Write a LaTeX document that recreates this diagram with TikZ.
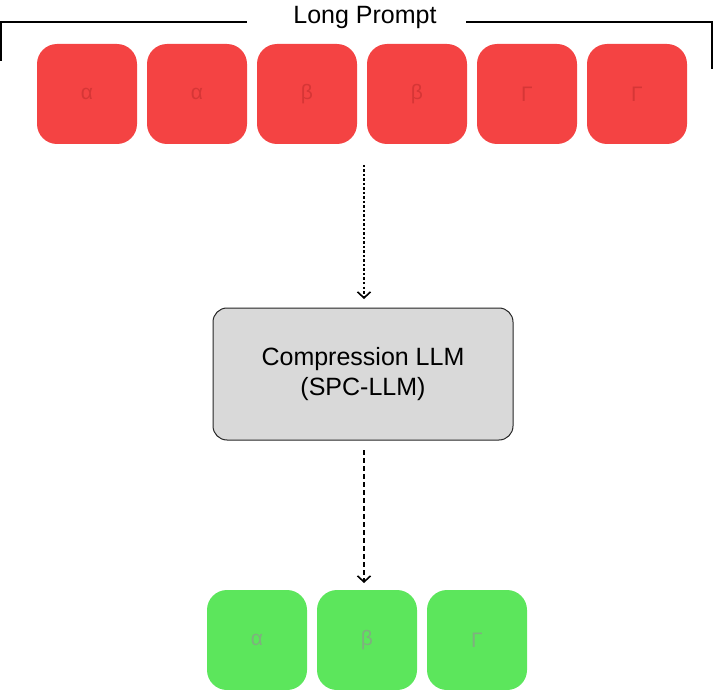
\documentclass[tikz,border=0pt]{standalone}
\usepackage{fontspec}
\setmainfont{Liberation Sans}
\usetikzlibrary{arrows.meta}
\definecolor{tokred}{HTML}{F44343}
\definecolor{tokredtxt}{HTML}{D63636}
\definecolor{tokgreen}{HTML}{5CE65C}
\definecolor{tokgreentxt}{HTML}{7FB07F}
\definecolor{llmgray}{HTML}{D9D9D9}
\tikzset{
  redtok/.style={fill=tokred, rounded corners=20pt, minimum width=100pt, minimum height=100pt, inner sep=0pt, text=tokredtxt, font=\fontsize{21}{24}\selectfont},
  greentok/.style={fill=tokgreen, rounded corners=20pt, minimum width=100pt, minimum height=100pt, inner sep=0pt, text=tokgreentxt, font=\fontsize{21}{24}\selectfont},
  llmbox/.style={draw=black!85, line width=1pt, fill=llmgray, rounded corners=14pt, minimum width=300pt, minimum height=132pt, inner sep=0pt, align=center, font=\fontsize{25}{30}\selectfont},
  flow/.style={line width=1.6pt, -{Straight Barb[length=6pt, width=13pt, line width=1.6pt]}},
  bracket/.style={line width=1.3pt},
}
\begin{document}
\begin{tikzpicture}[x=1pt, y=-1pt]
\useasboundingbox (0,0) rectangle (713,690);
% bracket + label
\node[font=\fontsize{25}{28}\selectfont, inner sep=0pt] (lp) at (365,17) {Long Prompt};
\coordinate (bl0) at (1,61);
\coordinate (bl1) at (1,22);
\coordinate (bl2) at (247,22);
\coordinate (br0) at (466,22);
\coordinate (br1) at (712,22);
\coordinate (br2) at (712,69);
\draw[bracket] (bl0) -- (bl1) -- (bl2);
\draw[bracket] (br0) -- (br1) -- (br2);
% red tokens
\node[redtok] (r1) at (87,94) {α};
\node[redtok] (r2) at (197,94) {α};
\node[redtok] (r3) at (307,94) {β};
\node[redtok] (r4) at (417,94) {β};
\node[redtok] (r5) at (527,94) {Γ};
\node[redtok] (r6) at (637,94) {Γ};
% LLM
\node[llmbox] (llm) at (363,374) {Compression LLM\\(SPC-LLM)};
% green tokens
\node[greentok] (g1) at (257,640) {α};
\node[greentok] (g2) at (367,640) {β};
\node[greentok] (g3) at (477,640) {Γ};
% arrows
\coordinate (a1s) at (364,165);
\coordinate (a1e) at (364,299);
\draw[flow, dash pattern=on 2.5pt off 2pt] (a1s) -- (a1e);
\coordinate (a2s) at (364,450);
\coordinate (a2e) at (364,583);
\draw[flow, dash pattern=on 5pt off 3pt] (a2s) -- (a2e);
\end{tikzpicture}
\end{document}
